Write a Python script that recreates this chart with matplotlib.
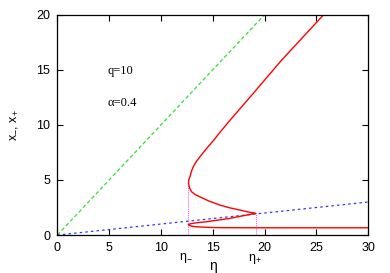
import matplotlib
matplotlib.use("Agg")
import matplotlib.pyplot as plt

plt.rcParams["mathtext.fontset"] = "custom"
plt.rcParams["mathtext.rm"] = "Liberation Sans"
plt.rcParams["mathtext.it"] = "Liberation Sans:italic"

# Red curve (x_-, x_+)
eta_red = [30.0, 20.0, 15.69, 14.5, 13.44, 13.0, 12.75, 12.65, 12.85, 13.3, 14.4, 16.65,
           17.8, 19.16, 18.5, 17.62, 16.6, 15.69, 14.6, 13.76, 13.3, 12.96, 12.75,
           12.66, 12.68, 12.8, 12.95, 13.11, 13.4, 13.76, 14.4, 15.04, 15.76, 16.6,
           18.9, 21.64, 25.7]
x_red = [0.66, 0.66, 0.67, 0.70, 0.75, 0.80, 0.87, 0.96, 1.02, 1.10, 1.21, 1.51,
         1.73, 1.97, 2.08, 2.27, 2.48, 2.72, 3.10, 3.47, 3.68, 3.93, 4.30,
         4.69, 5.0, 5.29, 5.8, 6.19, 6.65, 7.1, 7.85, 8.55, 9.4, 10.35,
         12.85, 15.87, 20.0]

# Reference lines
eta_line = [0, 30]
x_green = [0, 30]      # x = eta
x_blue = [0, 3]        # x = eta / q

# Markers eta_- and eta_+
eta_minus = 12.63
eta_plus = 19.16
x_minus_top = 4.75
x_plus_top = 1.97

xticks = [0, 5, 10, 15, 20, 25, 30]
yticks = [0, 5, 10, 15, 20]

fig = plt.figure(figsize=(3.9, 2.73), dpi=100)
ax = fig.add_axes([0.147, 0.139, 0.797, 0.807])

ax.plot(eta_line, x_green, color="#33dd33", lw=0.9, ls=(0, (3, 2)))
ax.plot(eta_line, x_blue, color="#3333ff", lw=0.9, ls=(0, (2, 2.5)))
ax.plot([eta_minus, eta_minus], [0, x_minus_top], color="#ff44ff", lw=0.7, ls=(0, (1, 1)))
ax.plot([eta_plus, eta_plus], [0, x_plus_top], color="#ff44ff", lw=0.7, ls=(0, (1, 1)))
ax.plot(eta_red, x_red, color="#ff0000", lw=1.0, solid_joinstyle="round")

ax.set_xlim(0, 30)
ax.set_ylim(0, 20)
ax.set_xticks(xticks)
ax.set_yticks(yticks)
ax.tick_params(direction="in", top=True, right=True, length=4, width=0.8,
               labelsize=9, pad=5)
for lab in ax.get_xticklabels() + ax.get_yticklabels():
    lab.set_family("Liberation Sans")
for s in ax.spines.values():
    s.set_linewidth(0.9)

ax.text(4.85, 14.9, "q=10", family="Liberation Serif", fontsize=9, va="center", ha="left")
ax.text(4.85, 12.0, "\u03b1=0.4", family="Liberation Serif", fontsize=9, va="center", ha="left")

fig.text(186 / 390, 1 - 258 / 273, "\u03b7$_{-}$", fontsize=9, ha="center", va="center",
         family="Liberation Sans")
fig.text(255 / 390, 1 - 259 / 273, "\u03b7$_{+}$", fontsize=9, ha="center", va="center",
         family="Liberation Sans")
fig.text(212.7 / 390, 1 - 266 / 273, "\u03b7", fontsize=10, ha="center", va="center",
         family="Liberation Sans")
fig.text(14 / 390, 1 - 125 / 273, "x$_{-}$, x$_{+}$", fontsize=9, ha="center", va="center",
         rotation=90, family="Liberation Sans")

fig.savefig("out.png", dpi=100)
